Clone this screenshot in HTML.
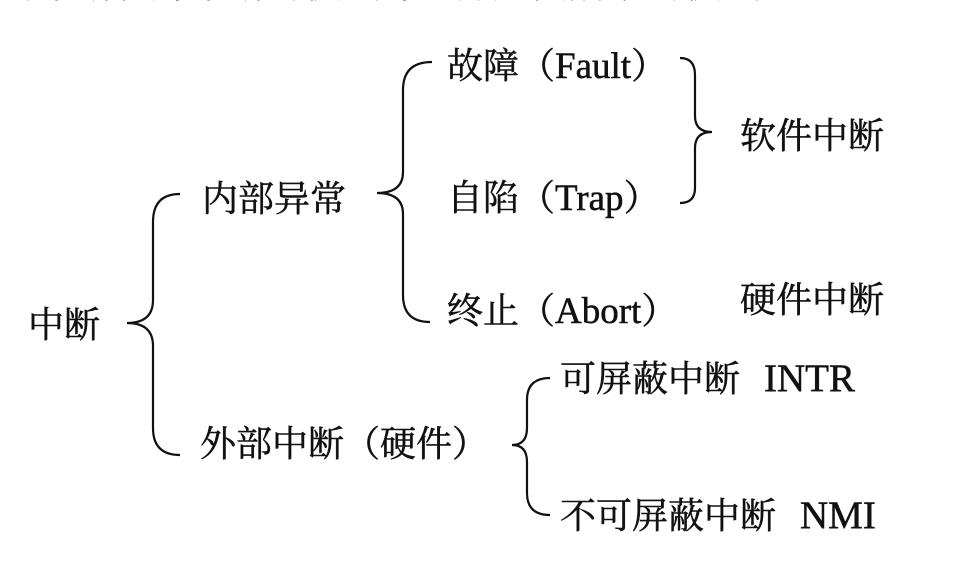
<!DOCTYPE html>
<html><head><meta charset="utf-8"><style>
html,body{margin:0;padding:0;background:#fff;}
svg{display:block;}
text{font-family:"Liberation Serif","Noto Serif CJK SC",serif;font-size:36px;fill:#111;stroke:#111;stroke-width:0.5;}
</style></head><body>
<svg width="980" height="576" viewBox="0 0 980 576" xmlns="http://www.w3.org/2000/svg">
<text x="0" y="-3" style="font-size:38px">的中断和外中断的模式与区分如图所示的模式</text>
<g fill="none" stroke="#111" stroke-width="2.2">
<path d="M180 194 Q153 194 153 222 L153 300 Q153 323 127 323 Q153 323 153 346 L153 428 Q153 455 180 455"/>
<path d="M432 62 Q403 62 403 90 L403 172 Q403 193 377 193 Q403 193 403 214 L403 295 Q403 322 430 322"/>
<path d="M680 58 Q695 58 695 75 L695 116 Q695 132 712 132 Q695 132 695 148 L695 188 Q695 203 680 203"/>
<path d="M550 378 Q527 378 527 400 L527 428 Q527 445 512 445 Q527 445 527 462 L527 493 Q527 515 550 515"/>
</g>
<text x="28" y="337">中断</text>
<text x="202" y="211">内部异常</text>
<text x="447" y="78">故障（<tspan style="font-size:37px">Fault</tspan>）</text>
<text x="447" y="210">自陷（<tspan style="font-size:37px">Trap</tspan>）</text>
<text x="447" y="323">终止（<tspan style="font-size:37px">Abort</tspan>）</text>
<text x="740" y="148">软件中断</text>
<text x="740" y="312">硬件中断</text>
<text x="200" y="456">外部中断（硬件）</text>
<text x="560" y="391">可屏蔽中断<tspan dx="24" style="font-size:39px">INTR</tspan></text>
<text x="560" y="528">不可屏蔽中断<tspan dx="24" style="font-size:39px">NMI</tspan></text>
</svg>
</body></html>
